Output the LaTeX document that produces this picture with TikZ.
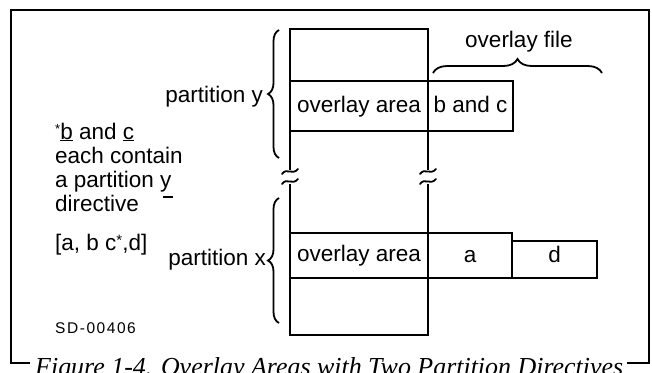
\documentclass[tikz,border=0pt]{standalone}
\usepackage{fontspec}
\setmainfont{Liberation Sans}
\newfontfamily\capfont{Liberation Serif}
\newfontfamily\idfont[LetterSpace=10]{Liberation Sans}
\usetikzlibrary{decorations.pathreplacing}

\tikzset{
  txt/.style={inner sep=0pt, font=\fontsize{22.5}{24}\selectfont},
  cell/.style={draw, line width=2pt, inner sep=0pt, text height=12pt, text depth=0pt,
    font=\fontsize{22.5}{24}\selectfont},
  wall/.style={line width=2.2pt},
  curly/.style={decorate, decoration={brace, amplitude=#1}, line width=1.8pt},
  frame/.style={line width=1.4pt},
  brk/.pic={\draw[line width=1.8pt, line cap=round]
      (-8,2) .. controls (-3,-5) and (2,4) .. (8,-3);},
}

\begin{document}
\begin{tikzpicture}[x=1pt, y=-1pt]
  \clip (0,0) rectangle (652,372);
  \fill[white] (0,0) rectangle (652,372);

  % outer frame, open at the bottom for the caption
  \draw[frame] (30,363) -- (11,363) -- (11,10) -- (649,10) -- (649,363) -- (627,363);
  \node[anchor=base west, inner sep=0pt] (cap) at (35,375)
    {\resizebox{588pt}{!}{\capfont\itshape\fontsize{24}{26}\selectfont Figure 1-4. Overlay Areas with Two Partition Directives}};

  % memory column corners
  \coordinate (tl) at (290,29);
  \coordinate (tr) at (428,29);
  \coordinate (bl) at (290,335);
  \coordinate (br) at (428,335);
  \coordinate (lgapA) at (290,170);
  \coordinate (lgapB) at (290,184);
  \coordinate (rgapA) at (428,170);
  \coordinate (rgapB) at (428,184);

  % partition y row
  \node[cell, minimum width=138pt, minimum height=50pt] (ovy) at (359,106) {overlay area};
  \node[cell, minimum width=85pt, minimum height=50pt] (bc) at (470.5,106) {b and c};

  % partition x row
  \node[cell, minimum width=138pt, minimum height=45pt] (ovx) at (359,255.5) {overlay area};
  \node[cell, minimum width=84pt, minimum height=45pt, text height=13pt] (fa) at (470,255.5) {a};
  \node[cell, minimum width=85pt, minimum height=37pt, text height=5pt] (fd) at (554.5,259.5) {d};

  % column walls with breaks
  \draw[wall] (lgapA) -- (tl) -- (tr) -- (rgapA);
  \draw[wall] (lgapB) -- (bl) -- (br) -- (rgapB);
  \pic at (290,172) {brk};
  \pic at (290,182) {brk};
  \pic at (428,172) {brk};
  \pic at (428,182) {brk};

  % braces
  \coordinate (pyA) at (279,158);
  \coordinate (pyB) at (279,30);
  \coordinate (pxA) at (279,323);
  \coordinate (pxB) at (279,198);
  \coordinate (ofA) at (433,73);
  \coordinate (ofB) at (602,73);
  \draw[curly=11pt] (pyA) -- (pyB);
  \draw[curly=11pt] (pxA) -- (pxB);
  \draw[curly=14pt] (ofA) -- (ofB);

  \node[txt, anchor=base east] (py) at (263,102) {partition y};
  \node[txt, anchor=base east] (px) at (266,265) {partition x};
  \node[txt, anchor=base] (of) at (519,47) {overlay file};

  % footnote text
  \node[txt, anchor=base west] (n1) at (55,139)
    {\raisebox{6pt}{\fontsize{13}{13}\selectfont *}\underline{b} and \underline{c}};
  \node[txt, anchor=base west] (n2) at (55,163) {each contain};
  \node[txt, anchor=base west] (n3) at (55,187) {a partition y};
  \draw[line width=1.5pt] (163,197) -- (173,197);
  \node[txt, anchor=base west] (n4) at (55,211) {directive};
  \node[txt, anchor=base west] (seq) at (55,250)
    {[a, b c\raisebox{5pt}{\fontsize{15}{15}\selectfont *},d]};
  \node[anchor=base west, inner sep=0pt, font=\idfont\fontsize{15.5}{16}\selectfont] (sd) at (55,333) {SD-00406};
\end{tikzpicture}
\end{document}
